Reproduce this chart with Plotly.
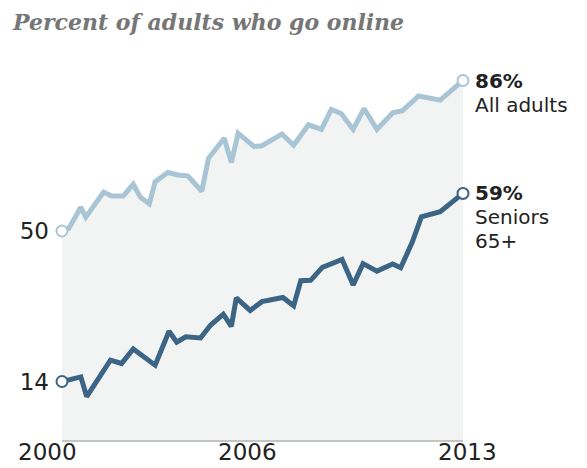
import plotly.graph_objects as go

# Survey dates (decimal years) and share of adults online
adult_years = [2000.0, 2000.22, 2000.61, 2000.77, 2001.35, 2001.61, 2001.99, 2002.31,
               2002.54, 2002.83, 2003.02, 2003.43, 2003.76, 2004.08, 2004.53, 2004.75,
               2005.26, 2005.49, 2005.71, 2006.23, 2006.48, 2007.13, 2007.51, 2007.99,
               2008.41, 2008.73, 2009.05, 2009.44, 2009.79, 2010.21, 2010.72, 2011.04,
               2011.56, 2012.26, 2013.0]
adult_pct = [50, 50.6, 55.7, 53.3, 59.3, 58.4, 58.4, 61.2,
             58.1, 56.5, 61.8, 64, 63.4, 63.2, 59.5, 67.4,
             72.2, 66.4, 73.4, 70.2, 70.4, 73.2, 70.5, 75.4,
             74.3, 79.1, 78.1, 74.3, 79.3, 74.3, 78.3, 78.8,
             82.3, 81.3, 86]

senior_years = [2000.0, 2000.61, 2000.80, 2001.57, 2001.93, 2002.31, 2003.02, 2003.47,
                2003.72, 2004.01, 2004.49, 2004.82, 2005.23, 2005.49, 2005.65, 2006.10,
                2006.48, 2007.16, 2007.51, 2007.74, 2008.06, 2008.44, 2009.08, 2009.44,
                2009.76, 2010.21, 2010.72, 2010.98, 2011.36, 2011.65, 2012.26, 2013.0]
senior_pct = [14, 15.1, 10.4, 19.1, 18.3, 21.8, 17.9, 26,
              23.4, 24.7, 24.4, 27.5, 30.1, 27.2, 34, 31,
              33.1, 34.1, 32.1, 38.1, 38.2, 41.3, 43.2, 37.1,
              42.2, 40.4, 42.1, 41.2, 47.4, 53.4, 54.6, 59]

year_labels = [2000, 2006, 2013]
ytick_vals = [14, 50]

LIGHT = "#a8c4d5"
DARK = "#3b6485"
TEXT = "#222222"
SANS = "DejaVu Sans"

# page body has an 8px margin, so the figure is sized to fit inside the window
W, H = 579, 460

fig = go.Figure()

# shaded area under the all-adults line
fig.add_trace(go.Scatter(
    x=adult_years, y=adult_pct, mode="none",
    fill="tozeroy", fillcolor="#f2f4f4", hoverinfo="skip",
))

for xs, ys, color in [(adult_years, adult_pct, LIGHT), (senior_years, senior_pct, DARK)]:
    fig.add_trace(go.Scatter(
        x=xs, y=ys, mode="lines",
        line=dict(color=color, width=5),
        cliponaxis=False,
    ))
    fig.add_trace(go.Scatter(
        x=[xs[0], xs[-1]], y=[ys[0], ys[-1]], mode="markers",
        marker=dict(size=11, color="white", line=dict(color=color, width=2)),
        cliponaxis=False,
    ))

# end labels
labels = [
    (adult_pct[-1], [f"<b>{adult_pct[-1]}%</b>", "All adults"]),
    (senior_pct[-1], [f"<b>{senior_pct[-1]}%</b>", "Seniors", "65+"]),
]
for yval, lines in labels:
    for i, txt in enumerate(lines):
        fig.add_annotation(
            x=adult_years[-1], y=yval, text=txt, showarrow=False,
            xanchor="left", yanchor="middle", xshift=10, yshift=-24 * i,
            font=dict(family=SANS, size=20, color=TEXT),
        )

# x labels
shifts = {2000: -15, 2006: 0, 2013: 4}
for yr in year_labels:
    fig.add_annotation(
        x=yr, y=0, text=str(yr), showarrow=False,
        xanchor="center", yanchor="middle", yshift=-12, xshift=shifts[yr],
        font=dict(family=SANS, size=23, color=TEXT),
    )

fig.update_layout(
    width=W, height=H,
    margin=dict(l=50, r=124, t=14, b=28),
    plot_bgcolor="white", paper_bgcolor="white",
    showlegend=False,
    title=dict(
        text="<b><i>Percent of adults who go online</i></b>",
        x=5 / W, xanchor="left", xref="container",
        y=1 - 14 / H, yanchor="middle", yref="container",
        font=dict(family="DejaVu Serif", size=22, color="#767676"),
    ),
    xaxis=dict(
        range=[2000, 2013], showgrid=False, zeroline=False,
        showticklabels=False, showline=True, linecolor="#c4c4c4", linewidth=2,
    ),
    yaxis=dict(
        range=[0, 100], showgrid=False, zeroline=False, showline=False,
        tickvals=ytick_vals, ticktext=[str(v) for v in ytick_vals],
        ticklabelstandoff=12,
        tickfont=dict(family=SANS, size=23, color=TEXT),
    ),
)

fig.write_html("out.html")
